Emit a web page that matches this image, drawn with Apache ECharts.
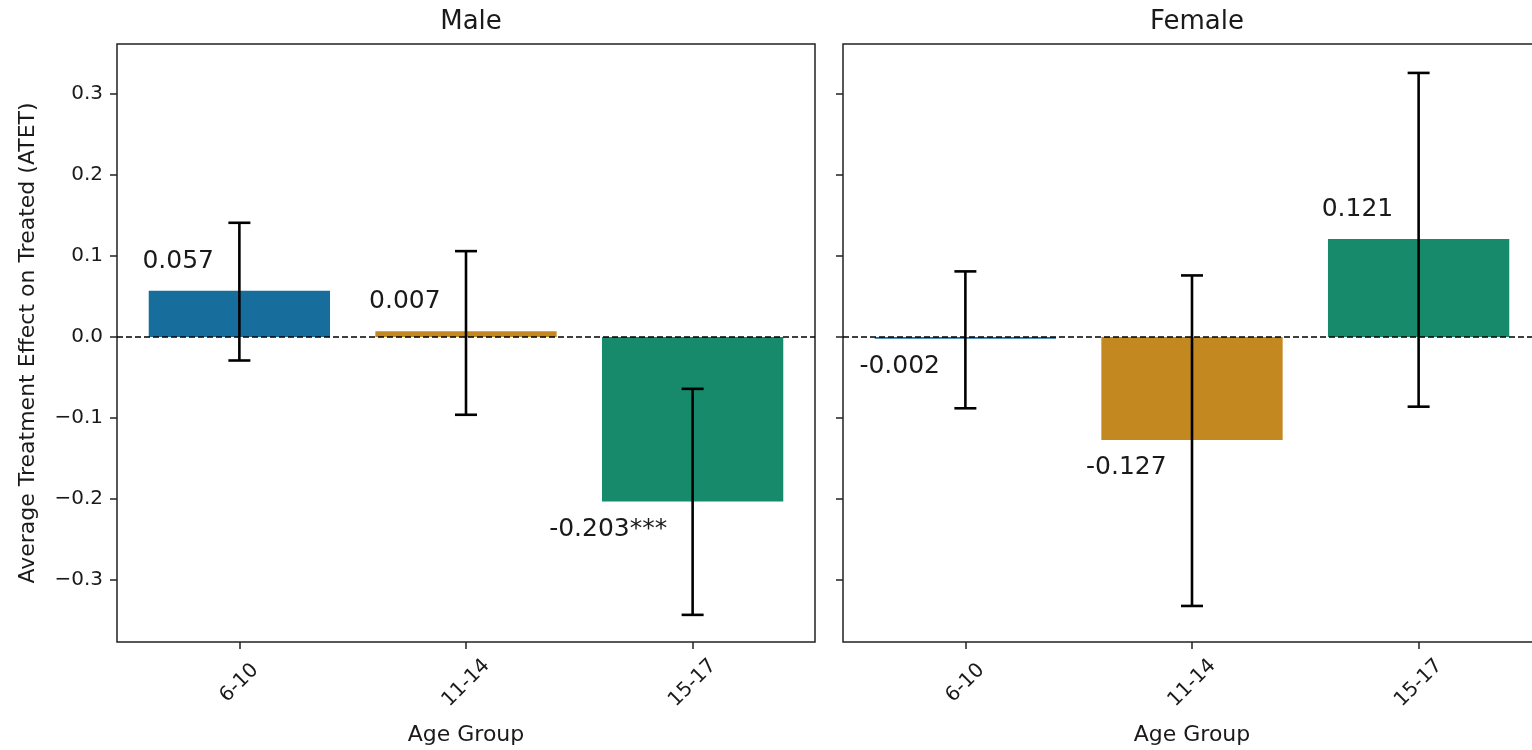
<!DOCTYPE html>
<html>
<head>
<meta charset="utf-8">
<script src="https://cdn.jsdelivr.net/npm/echarts@6/dist/echarts.min.js"></script>
<style>
  html, body { margin: 0; padding: 0; background: #fff; }
  #chart { width: 1532px; height: 750px; }
</style>
</head>
<body>
<div id="chart"></div>
<script>
// ---- data ----
const categories = ['6-10', '11-14', '15-17'];
const maleATET = [0.057, 0.007, -0.203];
const maleLow = [-0.029, -0.096, -0.343];
const maleHigh = [0.141, 0.106, -0.064];
const maleLabels = ['0.057', '0.007', '-0.203***'];
const femaleATET = [-0.002, -0.127, 0.121];
const femaleLow = [-0.088, -0.332, -0.086];
const femaleHigh = [0.081, 0.076, 0.326];
const femaleLabels = ['-0.002', '-0.127', '0.121'];
const yTicks = [-0.3, -0.2, -0.1, 0.0, 0.1, 0.2, 0.3];
const panelTitles = ['Male', 'Female'];

// axis limits (matplotlib-style margins)
const xMin = -0.54, xMax = 2.54;
const yMin = -0.3765, yMax = 0.3617;

const palette = ['#176d9c', '#c38820', '#168a6a'];
const FONT = 'DejaVu Sans';
const BAR_W = 0.8;

function buildData(vals, lo, hi) {
  return vals.map((v, i) => [i, v, lo[i], hi[i]]);
}

function makeRender(labels) {
  return function (params, api) {
    const i = params.dataIndex;
    const x = api.value(0), v = api.value(1), lo = api.value(2), hi = api.value(3);
    const tl = api.coord([x - BAR_W / 2, Math.max(v, 0)]);
    const br = api.coord([x + BAR_W / 2, Math.min(v, 0)]);
    const eTop = api.coord([x, hi]);
    const eBot = api.coord([x, lo]);
    const cap = 11;
    const pos = v >= 0;
    const tp = api.coord([x - 0.112, v + (pos ? 0.021 : -0.019)]);
    return {
      type: 'group',
      children: [
        { type: 'rect', shape: { x: tl[0], y: tl[1], width: br[0] - tl[0], height: Math.max(br[1] - tl[1], 1.5) },
          style: { fill: palette[i] }, z2: 1 },
        { type: 'line', shape: { x1: eTop[0], y1: eTop[1], x2: eBot[0], y2: eBot[1] },
          style: { stroke: '#000', lineWidth: 2.6 }, z2: 5 },
        { type: 'line', shape: { x1: eTop[0] - cap, y1: eTop[1], x2: eTop[0] + cap, y2: eTop[1] },
          style: { stroke: '#000', lineWidth: 2.6 }, z2: 5 },
        { type: 'line', shape: { x1: eBot[0] - cap, y1: eBot[1], x2: eBot[0] + cap, y2: eBot[1] },
          style: { stroke: '#000', lineWidth: 2.6 }, z2: 5 },
        { type: 'text', x: tp[0], y: tp[1],
          style: { text: labels[i], fontSize: 25, fontFamily: FONT, fill: '#1a1a1a',
                   align: 'right', verticalAlign: pos ? 'bottom' : 'top' }, z2: 6 }
      ]
    };
  };
}

const grids = [
  { left: 117, top: 44, width: 698, height: 598 },
  { left: 843, top: 44, right: -9, height: 598 }
];
const panelCenters = [117 + 349, 843 + 349];

const fmtY = v => (v < 0 ? '\u2212' : '') + Math.abs(v).toFixed(1);

const option = {
  backgroundColor: '#fff',
  animation: false,
  title: panelTitles.map((t, k) => ({
    text: t,
    left: panelCenters[k],
    top: 4,
    textAlign: 'center',
    textStyle: { fontSize: 26, fontWeight: 'normal', color: '#1a1a1a', fontFamily: FONT }
  })),
  grid: grids.map(g => Object.assign({}, g, {
    show: true, borderColor: '#222', borderWidth: 1.5, backgroundColor: 'transparent',
    containLabel: false, outerBoundsMode: 'none'
  })),
  xAxis: [0, 1].map(k => ({
    gridIndex: k, type: 'value', min: xMin, max: xMax,
    axisLine: { show: false, onZero: false },
    splitLine: { show: false },
    axisTick: { show: true, customValues: [0, 1, 2], length: 7, lineStyle: { color: '#222', width: 1.5 } },
    axisLabel: {
      customValues: [0, 1, 2],
      formatter: v => categories[Math.round(v)],
      rotate: 45, align: 'center', verticalAlign: 'middle', margin: 41,
      fontSize: 20, color: '#1a1a1a', fontFamily: FONT
    },
    name: 'Age Group', nameLocation: 'middle', nameGap: 82,
    nameTextStyle: { fontSize: 22, color: '#1a1a1a', fontFamily: FONT }
  })),
  yAxis: [0, 1].map(k => ({
    gridIndex: k, type: 'value', min: yMin, max: yMax,
    axisLine: { show: false, onZero: false },
    splitLine: { show: false },
    axisTick: { show: true, customValues: yTicks, length: 7, lineStyle: { color: '#222', width: 1.5 } },
    axisLabel: {
      show: k === 0, customValues: yTicks, formatter: fmtY, margin: 14,
      fontSize: 20, color: '#1a1a1a', fontFamily: FONT
    },
    name: k === 0 ? 'Average Treatment Effect on Treated (ATET)' : '',
    nameLocation: 'middle', nameRotate: 90, nameGap: 78,
    nameTextStyle: { fontSize: 22, color: '#1a1a1a', fontFamily: FONT }
  })),
  series: [
    { type: 'custom', xAxisIndex: 0, yAxisIndex: 0, data: buildData(maleATET, maleLow, maleHigh),
      renderItem: makeRender(maleLabels), z: 2, clip: false },
    { type: 'custom', xAxisIndex: 1, yAxisIndex: 1, data: buildData(femaleATET, femaleLow, femaleHigh),
      renderItem: makeRender(femaleLabels), z: 2, clip: false },
    { type: 'line', xAxisIndex: 0, yAxisIndex: 0, data: [[xMin, 0], [xMax, 0]], symbol: 'none', silent: true,
      lineStyle: { color: '#000', width: 1.3, type: [6, 3] }, z: 3 },
    { type: 'line', xAxisIndex: 1, yAxisIndex: 1, data: [[xMin, 0], [xMax, 0]], symbol: 'none', silent: true,
      lineStyle: { color: '#000', width: 1.3, type: [6, 3] }, z: 3 }
  ]
};

const chart = echarts.init(document.getElementById('chart'), null, { renderer: 'canvas' });
chart.setOption(option);
</script>
</body>
</html>
